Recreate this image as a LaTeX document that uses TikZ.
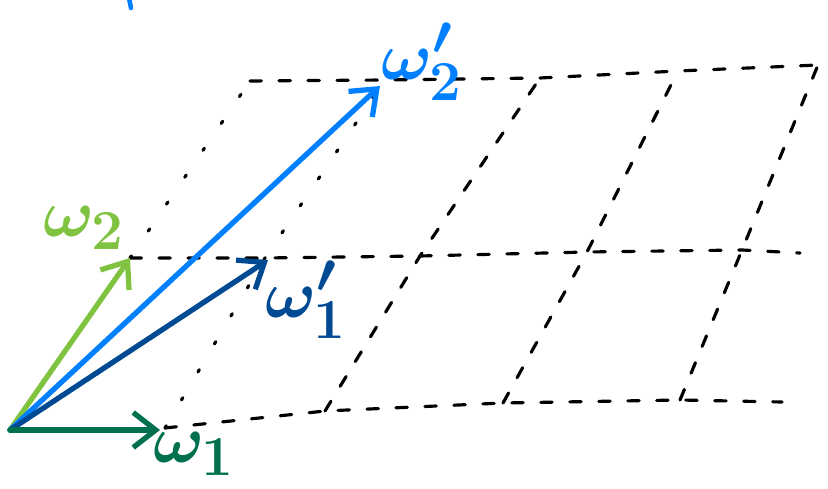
\documentclass[tikz,border=0pt]{standalone}
\usetikzlibrary{arrows.meta}
\definecolor{wone}{HTML}{00704F}
\definecolor{wtwo}{HTML}{80C341}
\definecolor{wonep}{HTML}{004A94}
\definecolor{wtwop}{HTML}{0080FF}

\begin{document}
\begin{tikzpicture}[
    x=0.02cm, y=-0.02cm,
    >={Straight Barb[length=4.5mm,width=7mm]},
    line cap=round, line join=round,
    vec/.style={line width=3pt, ->},
    grid/.style={line width=1.8pt, dash pattern=on 6.5pt off 10pt},
    dots/.style={line width=1.8pt, dash pattern=on 1.5pt off 17pt},
    lbl/.style={font=\Huge\boldmath, scale=1.55, inner sep=0pt},
]
\useasboundingbox (0,0) rectangle (828,489);

% ============================================================
% Lattice points (rows j = 0, 1, 2)
% ============================================================
\coordinate (O)    at (10,430);
\coordinate (W1)   at (160,430);
\coordinate (W2)   at (130,258);
\coordinate (W1p)  at (268,260);
\coordinate (W2p)  at (380,86);

\coordinate (b1)   at (165,428);
\coordinate (b2)   at (325,411);
\coordinate (b3)   at (503,403);
\coordinate (b4)   at (680,400);
\coordinate (bend) at (782,402);

\coordinate (m1)   at (265,258);
\coordinate (m2)   at (420,256);
\coordinate (m3)   at (587,252);
\coordinate (m4)   at (742,250);
\coordinate (mend) at (800,253);

\coordinate (t0)   at (250,81);
\coordinate (t1)   at (385,80);
\coordinate (t2)   at (540,78);
\coordinate (t3)   at (678,71);
\coordinate (t4)   at (818,65);

% Rows
\draw[grid] (b1) -- (b2) -- (b3) -- (b4) -- (bend);
\draw[grid] (W2) -- (m1) -- (m2) -- (m3) -- (m4) -- (mend);
\draw[grid] (t0) -- (t1) -- (t2) -- (t3) -- (t4);

% Slanted lines
\draw[dots] (W2) -- (t0);
\draw[dots] (b1) -- (m1) -- (t1);
\draw[grid] (b2) -- (m2) -- (t2);
\draw[grid] (b3) -- (m3) -- (t3);
\draw[grid] (b4) -- (m4) -- (t4);

% ============================================================
% Basis vectors
% ============================================================
\draw[vec,wtwo]  (O) -- (W2);
\draw[vec,wtwop] (O) -- (W2p);
\draw[vec,wonep] (O) -- (W1p);
\draw[vec,wone]  (O) -- (W1);

% Labels
\node[lbl,wone]  (l1)  at (194,454) {$\omega_1$};
\node[lbl,wtwo]  (l2)  at (84,228)  {$\omega_2$};
\node[lbl,wonep] (l1p) at (306,300) {$\omega'_1$};
\node[lbl,wtwop] (l2p) at (422,62)  {$\omega'_2$};

% cut-off stroke at the top
\draw[wtwop, line width=2.6pt] (129,-2) -- (131,8);

\end{tikzpicture}
\end{document}
